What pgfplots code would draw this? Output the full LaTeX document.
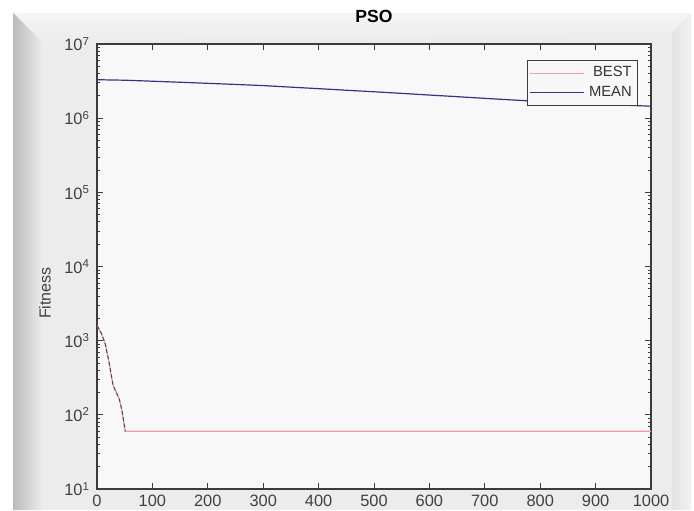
\documentclass[border=0pt]{standalone}
\usepackage{pgfplots}
\pgfplotsset{compat=1.18}
\usepackage{fontspec}
\setmainfont{Liberation Sans}
\definecolor{bestc}{RGB}{240,155,165}
\definecolor{meanc}{RGB}{52,52,130}
\definecolor{axc}{RGB}{60,60,60}
\definecolor{bgin}{RGB}{248,248,248}
\definecolor{frame}{RGB}{236,236,236}
\begin{document}
\begin{tikzpicture}
\useasboundingbox (0,0) rectangle (347pt,255pt);
% background frame (1px = 0.5pt, y measured from bottom)
\fill[white] (0,0) rectangle (347pt,255pt);
\fill[frame] (6.5pt,0) rectangle (345.5pt,248.5pt);
% top bevel
\shade[top color=white!96!black, bottom color=frame]
  (6.5pt,248.5pt) -- (345.5pt,248.5pt) -- (336pt,239pt) -- (21pt,234pt) -- cycle;
% left bevel
\shade[left color=black!27, right color=frame]
  (6.5pt,248.5pt) -- (21pt,234pt) -- (21pt,0) -- (6.5pt,0) -- cycle;
% right bevel
\shade[left color=black!11, right color=black!5]
  (345.5pt,248.5pt) -- (336pt,239pt) -- (336pt,0) -- (345.5pt,0) -- cycle;
\begin{axis}[
  at={(48.5pt,10.5pt)}, anchor=south west,
  scale only axis, width=277pt, height=222.5pt,
  ymode=log,
  xmin=0, xmax=1000, ymin=10, ymax=1e7,
  xtick={0,100,...,1000},
  ytick={10,100,1000,10000,100000,1000000,10000000},
  yticklabels={10\textsuperscript{1},10\textsuperscript{2},10\textsuperscript{3},10\textsuperscript{4},10\textsuperscript{5},10\textsuperscript{6},10\textsuperscript{7}},
  /pgf/number format/assume math mode=true,
  /pgf/number format/1000 sep={},
  tick align=inside,
  major tick length=3pt, minor tick length=1.6pt,
  axis line style={axc, line width=0.6pt},
  every tick/.style={axc, line width=0.4pt},
  tick label style={font=\fontsize{8.2}{9}\selectfont, text=black!75},
  xticklabel style={yshift=0.5pt},
  axis background/.style={fill=bgin},
  title={\textbf{PSO}},
  title style={font=\fontsize{8.8}{10}\selectfont, at={(0.5,1)}, anchor=south, yshift=1pt},
  ylabel={Fitness},
  ylabel style={font=\fontsize{8}{10}\selectfont, text=black!75, at={(axis description cs:-0.094,0.44)}, anchor=center},
  legend style={at={(axis description cs:0.977,0.964)}, anchor=north east,
    draw=axc, fill=white!97!black, font=\fontsize{7.4}{8}\selectfont, text=black!80,
    inner sep=1pt, row sep=-1pt, line width=0.5pt},
  legend cell align=right,
  legend image code/.code={\draw[#1] (0cm,0cm) -- (0.95cm,0cm);},
]
\addplot[color=bestc, line width=0.6pt] coordinates {
(0,1600) (8,1250) (15,900) (22,500) (29,250) (40,165) (45,115) (51,60) (1000,60)};
\addlegendentry{BEST}
\addplot[color=meanc, line width=0.6pt] coordinates {
(0,3.3e6) (50,3.25e6) (100,3.15e6) (150,3.05e6) (200,2.95e6) (250,2.85e6) (300,2.75e6)
(350,2.62e6) (400,2.5e6) (450,2.38e6) (500,2.27e6) (550,2.16e6) (600,2.05e6)
(650,1.95e6) (700,1.85e6) (750,1.76e6) (800,1.68e6) (850,1.62e6) (900,1.55e6)
(950,1.5e6) (1000,1.45e6)};
\addlegendentry{MEAN}
\addplot[black!70, line width=0.5pt, dash pattern=on 2pt off 1.2pt, forget plot] coordinates {
(0,1600) (8,1250) (15,900) (22,500) (29,250) (40,165) (45,115) (51,60)};
\end{axis}
\end{tikzpicture}
\end{document}
